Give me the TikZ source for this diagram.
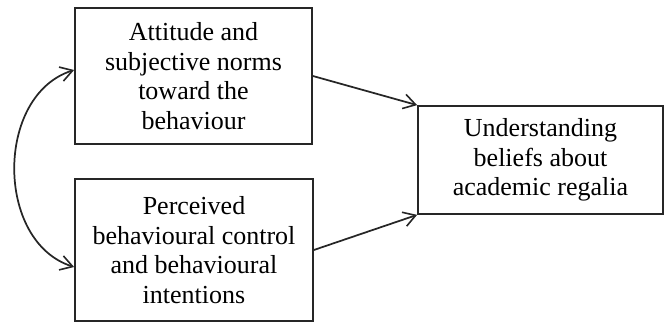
\documentclass[tikz,border=0pt]{standalone}
\usepackage{fontspec}
\setmainfont{Liberation Serif}
\usetikzlibrary{arrows.meta,calc}
\begin{document}
\begin{tikzpicture}[x=0.75pt,y=-0.75pt,
  boxn/.style={draw=black!85,line width=1.3pt,align=center,inner sep=0pt,
    font=\fontsize{19.5}{22.3}\selectfont},
  conn/.style={draw=black!85,line width=1.3pt,-{Straight Barb[length=9pt,width=11pt,line width=1.2pt]}}]
\useasboundingbox (0,0) rectangle (664,323);
\node[boxn,minimum width=177.75pt,minimum height=102pt] (b1) at (193.5,76)
  {Attitude and\\subjective norms\\toward the\\behaviour};
\node[boxn,minimum width=178.5pt,minimum height=106.5pt] (b2) at (194,250)
  {Perceived\\behavioural control\\and behavioural\\intentions};
\node[boxn,minimum width=183.75pt,minimum height=81pt] (b3) at (540.5,160)
  {Understanding\\beliefs about\\academic regalia};
\draw[conn] (b1.east) -- (b3.north west);
\draw[conn] (b2.east) -- (b3.south west);
\coordinate (c1) at ($(b1.west)+(0,-6)$);
\coordinate (c2) at ($(b2.west)+(0,17)$);
\draw[draw=black!85,line width=1.3pt,{Straight Barb[length=9pt,width=11pt,line width=1.2pt]}-{Straight Barb[length=9pt,width=11pt,line width=1.2pt]}]
  (c1) .. controls (-5,95) and (-5,242) .. (c2);
\end{tikzpicture}
\end{document}
